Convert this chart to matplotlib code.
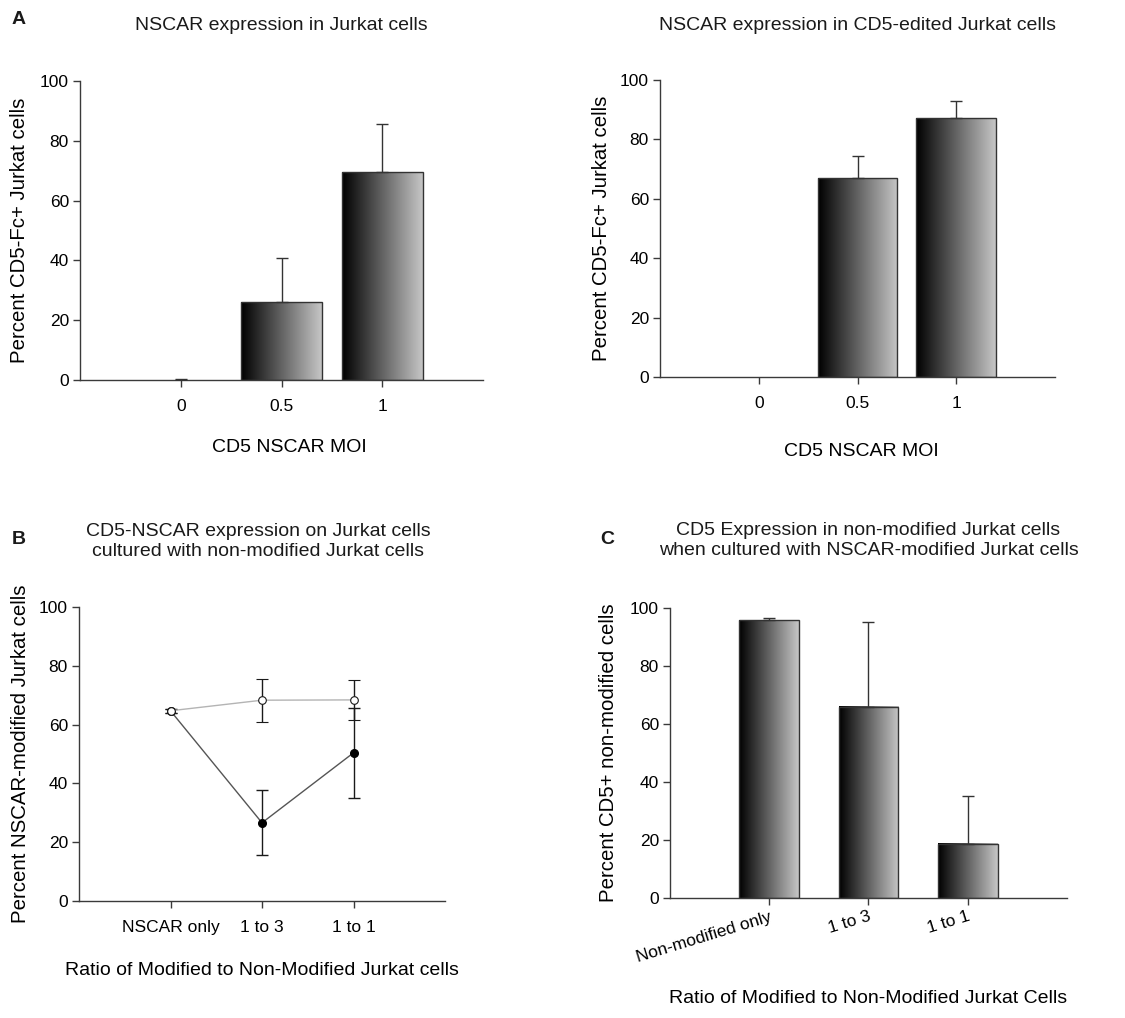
import numpy as np
import matplotlib
matplotlib.use("Agg")
import matplotlib.pyplot as plt
from matplotlib.colors import LinearSegmentedColormap

plt.rcParams['font.family'] = ['Liberation Sans', 'DejaVu Sans']
plt.rcParams['text.color'] = '#1a1a1a'

# panel A (left) - NSCAR expression in Jurkat cells
moi = ['0', '0.5', '1']
jurkat_pct = [0.0, 26.0, 69.5]
jurkat_err = [0.3, 14.9, 16.1]

# panel A (right) - CD5-edited Jurkat cells
edited_pct = [0.0, 66.9, 87.1]
edited_err = [0.0, 7.6, 5.9]

# panel B - line plot
ratio_b = ['NSCAR only', '1 to 3', '1 to 1']
open_vals = [64.7, 68.3, 68.4]
open_err = [0.7, 7.3, 6.9]
filled_vals = [64.7, 26.6, 50.4]
filled_err = [0.7, 11.1, 15.4]

# panel C - CD5 expression in non-modified cells
ratio_c = ['Non-modified only', '1 to 3', '1 to 1']
cd5_pct = [95.7, 65.9, 18.7]
cd5_err = [0.9, 29.3, 16.4]

W, H = 1125, 1018
fig = plt.figure(figsize=(W / 100, H / 100), dpi=100)

grad_cmap = LinearSegmentedColormap.from_list('bar_grad', ['#000000', '#c6c6c6'])
axis_col = '#3a3a3a'
fs_tick = 12.5
fs_title = 14
fs_xlab = 14
fs_ylab = 14.7


def make_axes(left, right, top, bottom):
    ax = fig.add_axes([left / W, 1 - bottom / H, (right - left) / W, (bottom - top) / H])
    for s in ['top', 'right']:
        ax.spines[s].set_visible(False)
    for s in ['left', 'bottom']:
        ax.spines[s].set_color(axis_col)
        ax.spines[s].set_linewidth(1.0)
    ax.tick_params(direction='out', length=5, width=1.0, color=axis_col, labelsize=fs_tick)
    ax.tick_params(axis='x', pad=9)
    ax.tick_params(axis='y', pad=3)
    ax.set_ylim(0, 100)
    ax.set_yticks([0, 20, 40, 60, 80, 100])
    ax.set_xlim(-1, 3)
    ax.set_xticks([0, 1, 2])
    return ax


def gradient_bars(ax, vals, errs, width):
    x = np.arange(len(vals))
    bars = ax.bar(x, vals, width=width, facecolor='none', edgecolor='#333333',
                  linewidth=1.0, zorder=3)
    grad = np.linspace(0, 1, 256).reshape(1, -1)
    for r in bars:
        x0, y0 = r.get_xy()
        w, h = r.get_width(), r.get_height()
        if h <= 0:
            r.set_linewidth(0)
            continue
        ax.imshow(grad, extent=[x0, x0 + w, y0, y0 + h], cmap=grad_cmap,
                  aspect='auto', zorder=2, interpolation='bicubic')
    errs = np.array(errs)
    shown = errs > 0
    ax.errorbar(x[shown], np.array(vals)[shown], yerr=[np.zeros(shown.sum()), errs[shown]],
                fmt='none', ecolor='#333333', elinewidth=1.0, capsize=4.5,
                capthick=1.0, zorder=4)
    ax.set_xlim(-1, 3)
    ax.set_ylim(0, 100)


# ---- A left
ax1 = make_axes(80, 483, 81, 380)
gradient_bars(ax1, jurkat_pct, jurkat_err, 0.8)
ax1.set_xticklabels(moi)
ax1.set_title('NSCAR expression in Jurkat cells', fontsize=fs_title, y=1.184, pad=0,
              va='center')
ax1.set_xlabel('CD5 NSCAR MOI', fontsize=fs_xlab, va='center')
ax1.xaxis.set_label_coords(0.519, -0.225)
ax1.set_ylabel('Percent CD5-Fc+ Jurkat cells', fontsize=fs_ylab, va='center')
ax1.yaxis.set_label_coords(-0.149, 0.5)

# ---- A right
ax2 = make_axes(660, 1055, 80, 377)
gradient_bars(ax2, edited_pct, edited_err, 0.81)
ax2.set_xticklabels(moi)
ax2.set_title('NSCAR expression in CD5-edited Jurkat cells', fontsize=fs_title, y=1.182,
              pad=0, va='center')
ax2.set_xlabel('CD5 NSCAR MOI', fontsize=fs_xlab, va='center')
ax2.xaxis.set_label_coords(0.509, -0.25)
ax2.set_ylabel('Percent CD5-Fc+ Jurkat cells', fontsize=fs_ylab, va='center')
ax2.yaxis.set_label_coords(-0.147, 0.5)

# ---- B
ax3 = make_axes(79, 445, 607, 901)
xb = np.arange(len(ratio_b))
ax3.errorbar(xb, filled_vals, yerr=filled_err, color='#555555', lw=1.0,
             ecolor='#1a1a1a', elinewidth=1.0, capsize=4, capthick=1.0,
             marker='o', markersize=5.5, markerfacecolor='black',
             markeredgecolor='black', zorder=3)
ax3.errorbar(xb, open_vals, yerr=open_err, color='#b4b4b4', lw=1.0,
             ecolor='#1a1a1a', elinewidth=1.0, capsize=4, capthick=1.0,
             marker='o', markersize=5.5, markerfacecolor='white',
             markeredgecolor='#1a1a1a', markeredgewidth=0.8, zorder=4)
ax3.set_xticklabels(ratio_b)
ax3.set_title('CD5-NSCAR expression on Jurkat cells\ncultured with non-modified Jurkat cells',
              fontsize=fs_title, y=1.224, pad=0, va='center', x=0.489, linespacing=1.25)
ax3.set_xlabel('Ratio of Modified to Non-Modified Jurkat cells', fontsize=fs_xlab, va='center')
ax3.xaxis.set_label_coords(0.5, -0.235)
ax3.set_ylabel('Percent NSCAR-modified Jurkat cells', fontsize=fs_ylab, va='center')
ax3.yaxis.set_label_coords(-0.161, 0.5)

# ---- C
ax4 = make_axes(670, 1067, 608, 898)
gradient_bars(ax4, cd5_pct, cd5_err, 0.6)
ax4.set_xticklabels(ratio_c, rotation=17, ha='right', rotation_mode='anchor')
ax4.tick_params(axis='x', pad=3)
ax4.set_title('CD5 Expression in non-modified Jurkat cells\nwhen cultured with NSCAR-modified Jurkat cells',
              fontsize=fs_title, y=1.234, pad=0, va='center', linespacing=1.25)
ax4.set_xlabel('Ratio of Modified to Non-Modified Jurkat Cells', fontsize=fs_xlab, va='center')
ax4.xaxis.set_label_coords(0.499, -0.345)
ax4.set_ylabel('Percent CD5+ non-modified cells', fontsize=fs_ylab, va='center')
ax4.yaxis.set_label_coords(-0.156, 0.5)

# panel letters
for lbl, px, py in [('A', 19, 20), ('B', 19, 540), ('C', 607, 540)]:
    fig.text(px / W, 1 - py / H, lbl, fontsize=14, fontweight='bold',
             ha='center', va='center')

fig.savefig('out.png', dpi=100)
